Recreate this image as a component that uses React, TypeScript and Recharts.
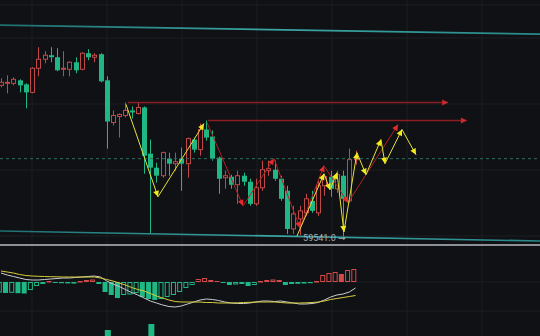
import React from 'react';
import { ComposedChart, Bar, Line, XAxis, YAxis, CartesianGrid, ReferenceLine, ReferenceDot } from 'recharts';

// candles (price)
const opens = [63291, 63341, 63341, 63416, 63316, 63116, 63716, 63941, 64041, 63991, 63691, 63691, 63866, 63691, 64091, 63991, 64066, 63416, 62366, 62516, 62541, 62666, 62591, 62741, 61591, 61241, 61041, 61466, 61341, 61466, 61341, 61941, 61691, 62191, 62016, 61491, 60991, 61016, 60816, 61041, 60891, 60341, 60741, 61166, 61191, 60966, 60666, 59716, 59966, 60116, 60416, 60116, 60791, 61016, 60716, 61041, 60416, 61441];
const closes = [63366, 63366, 63441, 63291, 63116, 63716, 63941, 64041, 63991, 63666, 63716, 63866, 63666, 64091, 63991, 64041, 63391, 62391, 62541, 62566, 62666, 62616, 62741, 61541, 61241, 61041, 61616, 61341, 61391, 61341, 61966, 61691, 62191, 61991, 61466, 60966, 61041, 60816, 61041, 60891, 60341, 60741, 61191, 61216, 60966, 60466, 59716, 60091, 60166, 60466, 60166, 60791, 61016, 60716, 61066, 60466, 61441, 61466];
const highs = [63466, 63541, 63491, 63441, 63341, 63741, 64241, 64141, 64241, 64216, 64141, 63891, 63991, 64116, 64191, 64091, 64091, 63516, 62666, 62591, 62866, 62766, 62866, 62766, 61941, 61366, 61641, 61616, 61616, 61741, 61991, 61991, 62341, 62416, 62166, 61516, 61166, 61066, 61166, 61116, 60966, 60966, 61416, 61416, 61416, 61041, 60791, 60291, 60291, 60591, 60666, 60916, 61041, 61166, 61166, 61166, 61716, 61666];
const lows = [63241, 63091, 63291, 63116, 62716, 63091, 63516, 63841, 63866, 63641, 63516, 63516, 63591, 63666, 63916, 63866, 63366, 61716, 62291, 61991, 62491, 62466, 62566, 61091, 59591, 60866, 60991, 61041, 61166, 60666, 60991, 61616, 61541, 61916, 61416, 60591, 60716, 60716, 60341, 60791, 60291, 60291, 60666, 61041, 60916, 60416, 59591, 59591, 59566, 60041, 60116, 60041, 60541, 60516, 60616, 59541, 60366, 61316];

// MACD panel
const hist = [-105, -110, -108, -112, -115, -80, -40, -20, 10, -10, -12, -14, -16, 10, 20, 25, -20, -100, -130, -160, -130, -125, -110, -150, -170, -180, -170, -150, -130, -100, -60, -30, 30, 40, 20, 10, -10, -30, -25, -20, -40, -30, 10, 20, 25, 20, -30, -20, -18, -10, -12, 10, 70, 90, 100, 80, 120, 130];
const dif = [90, 70, 55, 40, 25, 20, 20, 25, 30, 35, 40, 40, 45, 50, 55, 60, 50, 10, -20, -45, -75, -105, -130, -160, -190, -210, -230, -245, -250, -240, -220, -200, -180, -170, -175, -185, -200, -210, -215, -215, -210, -200, -190, -190, -195, -190, -200, -210, -220, -220, -215, -205, -180, -150, -130, -120, -100, -60];
const dea = [110, 100, 90, 75, 65, 60, 57, 55, 53, 52, 50, 50, 50, 50, 50, 50, 40, 25, 10, -10, -30, -55, -75, -90, -115, -140, -160, -180, -195, -200, -200, -200, -200, -205, -205, -210, -210, -210, -208, -205, -203, -200, -200, -200, -200, -205, -210, -210, -210, -208, -205, -200, -190, -175, -165, -155, -145, -135];
const volTops = [null, null, null, null, null, null, null, null, null, null, null, null, null, null, null, null, null, 600, null, null, null, null, null, null, 1200, null, null, null, null, null, null, null, null, null, null, null, null, null, null, null, null, null, null, null, null, null, null, null, null, null, null, null, null, null, null, null, null, null];

// drawings (candle index, price)
const channelTop = [{ i: -0.16, p: 64791 }, { i: 86.66, p: 64566 }];
const channelBottom = [{ i: -0.16, p: 59666 }, { i: 86.66, p: 59416 }];
const redArrow1 = [{ i: 20.4, p: 62866 }, { i: 71.9, p: 62866 }];
const redArrow2 = [{ i: 33.3, p: 62416 }, { i: 74.9, p: 62416 }];
const yellowWave1 = [{ i: 20.1, p: 62816 }, { i: 25.24, p: 60516 }, { i: 32.64, p: 62341 }];
const redWave = [{ i: 33.12, p: 62366 }, { i: 38.91, p: 60291 }, { i: 43.89, p: 61466 }, { i: 48.07, p: 59741 }, { i: 51.93, p: 61291 }, { i: 55.79, p: 60366 }, { i: 63.83, p: 62316 }];
const yellowWave2 = [{ i: 47.59, p: 59541 }, { i: 51.93, p: 61091 }, { i: 52.89, p: 60691 }, { i: 54.02, p: 61116 }, { i: 55.14, p: 59641 }, { i: 57.23, p: 61616 }, { i: 58.68, p: 61066 }, { i: 61.09, p: 61941 }, { i: 61.74, p: 61341 }, { i: 64.47, p: 62191 }, { i: 66.72, p: 61566 }];
const lowLabel = '59541.0';

const W = 540;
const MAIN_H = 244;
const IND_H = 90;
const X_DOMAIN: [number, number] = [-0.16, 86.66];
const P_DOMAIN: [number, number] = [59341, 65416];
const M_DOMAIN: [number, number] = [-540, 360];
const PX_PER_I = W / (X_DOMAIN[1] - X_DOMAIN[0]);
const PX_PER_P = MAIN_H / (P_DOMAIN[1] - P_DOMAIN[0]);

const BG = '#0f1114';
const GRID = '#1c1f23';
const RED = '#c04848';
const GREEN = '#1fb884';
const YELLOW = '#e8e23a';
const TEAL = '#2b8e8e';

const candles = opens.map((o, i) => ({ i, open: o, close: closes[i], high: highs[i], low: lows[i] }));
const macd = hist.map((h, i) => ({ i, hist: h, prev: i > 0 ? hist[i - 1] : h - 1, dif: dif[i], dea: dea[i], vol: volTops[i] }));

const Candle = (props: any) => {
  const { x, y, width, height, payload } = props;
  const { open, close, high, low } = payload;
  const up = close >= open;
  const color = up ? RED : GREEN;
  const k = height / (high - low);
  const cx = Math.round(x + width / 2) + 0.5;
  const top = y + (high - Math.max(open, close)) * k;
  const bh = Math.max(1, (Math.max(open, close) - Math.min(open, close)) * k);
  return (
    <g>
      <line x1={cx} x2={cx} y1={y} y2={y + height} stroke={color} strokeWidth={1} />
      {up ? (
        <rect x={cx - 2} y={top} width={4} height={bh} fill={BG} stroke={color} strokeWidth={1} />
      ) : (
        <rect x={cx - 2.5} y={top} width={5} height={bh} fill={color} />
      )}
    </g>
  );
};

const HistBar = (props: any) => {
  const { x, y, width, height, payload } = props;
  const v = payload.hist;
  const color = v >= 0 ? '#d24a4a' : GREEN;
  const top = Math.min(y, y + height);
  const h = Math.max(1, Math.abs(height));
  const filled = v < payload.prev;
  const cx = x + width / 2;
  return filled ? (
    <rect x={cx - 2.5} y={top} width={5} height={h} fill={color} />
  ) : (
    <rect x={cx - 2} y={top + 0.5} width={4} height={Math.max(0.5, h - 1)} fill="none" stroke={color} strokeWidth={1} />
  );
};

const VolBar = (props: any) => {
  const { x, y, width, height } = props;
  if (!height) return null;
  return <rect x={x + width / 2 - 3} y={y} width={6} height={height} fill={GREEN} />;
};

const arrowDot = (series: { i: number; p: number }[], color: string, size: number, onlyLast = false) => (props: any) => {
  const { cx, cy, index } = props;
  if (index === 0 || (onlyLast && index !== series.length - 1)) return <g key={index} />;
  const a0 = series[index - 1];
  const a1 = series[index];
  const ang = Math.atan2(-(a1.p - a0.p) * PX_PER_P, (a1.i - a0.i) * PX_PER_I);
  const L = size * 2;
  const bx = cx - L * Math.cos(ang);
  const by = cy - L * Math.sin(ang);
  const nx = -Math.sin(ang) * size;
  const ny = Math.cos(ang) * size;
  return <polygon key={index} points={`${cx},${cy} ${bx + nx},${by + ny} ${bx - nx},${by - ny}`} fill={color} />;
};

const LowLabel = (props: any) => {
  const { viewBox } = props;
  const x = viewBox.x;
  const y = viewBox.y;
  return (
    <text x={x - 40} y={y + 5} fontSize={9} fill="#a8adb3" fontFamily="Roboto, 'DejaVu Sans', sans-serif">
      {lowLabel + ' →'}
    </text>
  );
};

const vLines = [32, 107, 182, 257, 332, 407, 482];

export default function App() {
  const lastClose = closes[closes.length - 1];
  const lowIdx = lows.indexOf(Math.min(...lows));
  return (
    <div style={{ position: 'fixed', left: 0, top: 0, width: W, height: 336, background: BG, overflow: 'hidden' }}>
      <ComposedChart width={W} height={MAIN_H} data={candles} margin={{ top: 0, right: 0, bottom: 0, left: 0 }}>
        <defs>
          <linearGradient id="tealGrad" x1="0" y1="0" x2="1" y2="0">
            <stop offset="0%" stopColor="#1f6f70" />
            <stop offset="50%" stopColor="#3aa6a6" />
            <stop offset="100%" stopColor="#2a8888" />
          </linearGradient>
        </defs>
        <CartesianGrid stroke={GRID} verticalPoints={vLines} horizontalPoints={[5, 38, 104, 170, 236]} />
        <XAxis dataKey="i" type="number" domain={X_DOMAIN} hide allowDataOverflow />
        <YAxis type="number" domain={P_DOMAIN} hide allowDataOverflow />
        <ReferenceLine y={lastClose} stroke="#2d6e60" strokeDasharray="3 3" />
        <Bar dataKey={(d: any) => [d.low, d.high]} barSize={5} shape={<Candle />} isAnimationActive={false} />
        <Line data={channelTop} dataKey="p" stroke="url(#tealGrad)" strokeWidth={1.6} dot={false} activeDot={false} isAnimationActive={false} />
        <Line data={channelBottom} dataKey="p" stroke="url(#tealGrad)" strokeWidth={1.6} dot={false} activeDot={false} isAnimationActive={false} />
        <Line data={redArrow1} dataKey="p" stroke="#8c1d22" strokeWidth={1.5} dot={arrowDot(redArrow1, '#c82a2e', 3, true)} activeDot={false} isAnimationActive={false} />
        <Line data={redArrow2} dataKey="p" stroke="#8c1d22" strokeWidth={1.5} dot={arrowDot(redArrow2, '#c82a2e', 3, true)} activeDot={false} isAnimationActive={false} />
        <Line data={yellowWave1} dataKey="p" stroke={YELLOW} strokeWidth={1} dot={arrowDot(yellowWave1, '#f2ea1c', 3)} activeDot={false} isAnimationActive={false} />
        <Line data={redWave} dataKey="p" stroke="#b02222" strokeWidth={1} dot={arrowDot(redWave, '#e62a2a', 3)} activeDot={false} isAnimationActive={false} />
        <Line data={yellowWave2} dataKey="p" stroke={YELLOW} strokeWidth={1} dot={arrowDot(yellowWave2, '#f2ea1c', 3)} activeDot={false} isAnimationActive={false} />
        <ReferenceDot x={lowIdx} y={lows[lowIdx]} r={0} label={<LowLabel />} />
      </ComposedChart>
      <div style={{ width: W, height: 2, background: '#8d9095' }} />
      <ComposedChart width={W} height={IND_H} data={macd} margin={{ top: 0, right: 0, bottom: 0, left: 0 }}>
        <CartesianGrid stroke={GRID} verticalPoints={vLines} horizontalPoints={[36, 65]} />
        <XAxis dataKey="i" type="number" domain={X_DOMAIN} hide allowDataOverflow />
        <YAxis yAxisId="m" type="number" domain={M_DOMAIN} hide allowDataOverflow />
        <YAxis yAxisId="v" type="number" domain={[0, 9000]} hide allowDataOverflow />
        <Bar yAxisId="m" dataKey="hist" barSize={5} shape={<HistBar />} isAnimationActive={false} />
        <Line yAxisId="m" dataKey="dif" stroke="#c9cbd0" strokeWidth={1} dot={false} activeDot={false} isAnimationActive={false} />
        <Line yAxisId="m" dataKey="dea" stroke="#d8cc3c" strokeWidth={1} dot={false} activeDot={false} isAnimationActive={false} />
        <Bar yAxisId="v" dataKey="vol" barSize={6} shape={<VolBar />} isAnimationActive={false} />
      </ComposedChart>
    </div>
  );
}
